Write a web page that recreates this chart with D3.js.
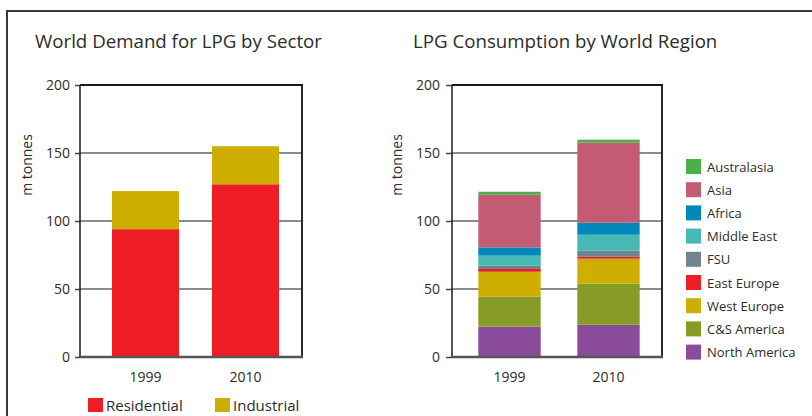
<!DOCTYPE html>
<html>
<head>
<meta charset="utf-8">
<script src="https://cdn.jsdelivr.net/npm/d3@7"></script>
<style>
  body { margin: 0; background: #fff; }
  text { font-family: "Open Sans", "Noto Sans", sans-serif; fill: #2b2b2b; }
</style>
</head>
<body>
<svg width="812" height="416"></svg>
<script>
(function () {

	// ---- data ----
	var years = ['1999', '2010'];
	var sectors = ['Residential', 'Industrial'];
	var residential = [94, 127];
	var industrial = [28, 28];

	var regions = ['North America', 'C&S America', 'West Europe', 'East Europe', 'FSU',
		'Middle East', 'Africa', 'Asia', 'Australasia'];
	var region1999 = [22.3, 22, 18.4, 2, 2.4, 7.4, 6.1, 38.7, 2.2];
	var region2010 = [23.7, 30.2, 18.4, 1.4, 4.4, 11.8, 8.8, 58.9, 2.2];
	var yTicks = [0, 50, 100, 150, 200];

	var sectorColors = ['#ee1d25', '#ccad00'];
	var regionColors = ['#8b4c9c', '#879b27', '#cfae03', '#ee1d25', '#6e8590',
		'#48b8b4', '#0088bb', '#c35b75', '#4daf4a'];

	var svg = d3.select('svg');

	// outer frame
	svg.append('path')
		.attr('d', 'M812,11 H7 V416')
		.attr('fill', 'none')
		.attr('stroke', '#3a3a3a')
		.attr('stroke-width', 2);

	function drawPanel(opt) {
		var g = svg.append('g');
		var y = d3.scaleLinear().domain([0, 200]).range([357, 85]);
		var x = d3.scaleBand().domain(years).range(opt.band)
			.paddingInner(opt.pin).paddingOuter(opt.pout);

		g.append('text')
			.attr('x', opt.titleX).attr('y', 48)
			.style('font-size', '18.7px')
			.text(opt.title);

		// gridlines
		g.selectAll('line.grid')
			.data([50, 100, 150])
			.enter().append('line')
			.attr('x1', opt.left).attr('x2', opt.right)
			.attr('y1', function (d) { return y(d); })
			.attr('y2', function (d) { return y(d); })
			.attr('stroke', '#8c8c8c')
			.attr('stroke-width', 2);

		// stacked bars
		var stacked = d3.stack().keys(d3.range(opt.series.length))
			.value(function (d, k) { return d[k]; })(opt.rows);

		g.selectAll('g.layer')
			.data(stacked)
			.enter().append('g')
			.attr('fill', function (d, i) { return opt.colors[i]; })
			.selectAll('rect')
			.data(function (d) { return d; })
			.enter().append('rect')
			.attr('x', function (d, i) { return x(years[i]); })
			.attr('width', x.bandwidth())
			.attr('y', function (d) { return y(d[1]); })
			.attr('height', function (d) { return y(d[0]) - y(d[1]); });

		// axis
		var axis = g.append('g')
			.attr('transform', 'translate(' + opt.left + ',0)')
			.call(d3.axisLeft(y).tickValues(yTicks).tickSize(opt.tick).tickPadding(opt.pad));
		axis.select('.domain').remove();
		axis.selectAll('line').attr('stroke', '#444').attr('stroke-width', 1.5);
		axis.selectAll('text').style('font-size', '14px').attr('fill', '#2b2b2b')
			.style('font-family', '"Open Sans", sans-serif');

		g.append('line')
			.attr('x1', opt.left).attr('x2', opt.left)
			.attr('y1', y(200)).attr('y2', y(0))
			.attr('stroke', '#1a1a1a').attr('stroke-width', 1.5);
		g.append('line')
			.attr('x1', opt.right).attr('x2', opt.right)
			.attr('y1', y(200) - 1).attr('y2', y(0))
			.attr('stroke', '#2a2a2a').attr('stroke-width', 2);
		g.append('line')
			.attr('x1', opt.left).attr('x2', opt.right + 1)
			.attr('y1', y(200)).attr('y2', y(200))
			.attr('stroke', '#1a1a1a').attr('stroke-width', 2);
		g.append('line')
			.attr('x1', opt.left).attr('x2', opt.right + 1)
			.attr('y1', y(0)).attr('y2', y(0))
			.attr('stroke', '#555').attr('stroke-width', 2.5);

		// x labels
		g.selectAll('text.year')
			.data(years)
			.enter().append('text')
			.attr('x', function (d) { return x(d) + x.bandwidth() / 2; })
			.attr('y', 382)
			.attr('text-anchor', 'middle')
			.style('font-size', '14px')
			.text(function (d) { return d; });

		g.append('text')
			.attr('transform', 'translate(' + opt.labelX + ',165) rotate(-90)')
			.attr('text-anchor', 'middle')
			.style('font-size', '14px')
			.text('m tonnes');

		return g;
	}

	drawPanel({
		title: 'World Demand for LPG by Sector', titleX: 35,
		left: 80, right: 302, band: [95.5, 295.5], pin: 0.33, pout: 0.165,
		tick: 5, pad: 5, labelX: 32,
		series: sectors, colors: sectorColors,
		rows: years.map(function (y, i) { return [residential[i], industrial[i]]; })
	});

	drawPanel({
		title: 'LPG Consumption by World Region', titleX: 413,
		left: 452, right: 662, band: [460, 658], pin: 0.37, pout: 0.185,
		tick: 6, pad: 6, labelX: 402,
		series: regions, colors: regionColors,
		rows: [region1999, region2010]
	});

	// bottom legend (sectors)
	var leg1 = svg.append('g').selectAll('g')
		.data(sectors)
		.enter().append('g')
		.attr('transform', function (d, i) { return 'translate(' + (88 + i * 127) + ',398)'; });
	leg1.append('rect').attr('width', 15).attr('height', 14)
		.attr('fill', function (d, i) { return sectorColors[i]; });
	leg1.append('text').attr('x', 18).attr('y', 13)
		.style('font-size', '15px')
		.text(function (d) { return d; });

	// right legend (regions, top to bottom reversed)
	var legRows = regions.map(function (r, i) { return i; }).reverse();
	var leg2 = svg.append('g').selectAll('g')
		.data(legRows)
		.enter().append('g')
		.attr('transform', function (d, i) { return 'translate(686,' + (159 + i * 23.2) + ')'; });
	leg2.append('rect').attr('width', 15).attr('height', 15)
		.attr('fill', function (d) { return regionColors[d]; });
	leg2.append('text').attr('x', 21).attr('y', 12.5)
		.style('font-size', '13px')
		.text(function (d) { return regions[d]; });

})();
</script>
</body>
</html>
